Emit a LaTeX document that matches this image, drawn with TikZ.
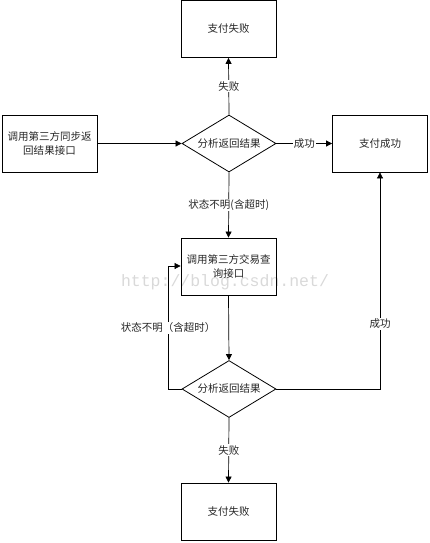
\documentclass[tikz,border=0pt]{standalone}
\usepackage{fontspec}
\setmainfont{Noto Sans CJK SC}
\newfontfamily\wmfont{Liberation Mono}
\usetikzlibrary{arrows.meta,shapes.geometric}
\begin{document}
\begin{tikzpicture}[x=1pt,y=-1pt,
  every node/.style={font=\fontsize{10.5}{14}\selectfont, text=black!85},
  box/.style={draw, line width=0.8pt, minimum width=95pt, minimum height=57pt, inner sep=2pt, align=center},
  dia/.style={draw, line width=0.8pt, diamond, minimum width=94pt, minimum height=57pt, inner sep=0pt, aspect=1.65},
  lbl/.style={fill=white, inner sep=1pt},
  conn/.style={line width=0.7pt, -{Triangle[length=6pt,width=6pt]}}]
\useasboundingbox (0,0) rectangle (430,543);
\node[text=black!15, font=\wmfont\fontsize{16.5}{18}\selectfont] (wm) at (225,282) {http://blog.csdn.net/};
\node[box] (fail1) at (228.5,29) {支付失败};
\node[box] (call) at (49.5,143.5) {调用第三方同步返\\回结果接口};
\node[dia] (d1) at (229,143.5) {};
\node (t1) at (229,143.5) {分析返回结果};
\node[box] (succ) at (380,143.5) {支付成功};
\node[box] (query) at (228.5,266.5) {调用第三方交易查\\询接口};
\node[dia] (d2) at (229,389) {};
\node (t2) at (229,389) {分析返回结果};
\node[box] (fail2) at (228.5,511.5) {支付失败};
\coordinate (lt) at (168,266);
\coordinate (lb) at (168,389);
\coordinate (rb) at (380,389);

\draw[conn] (call.east) -- (d1.west);
\draw[conn] (d1.north) -- node[lbl] {失败} (fail1.south);
\draw[conn] (d1.east) -- node[lbl] {成功} (succ.west);
\draw[conn] (d1.south) -- node[lbl, pos=0.5] {状态不明(含超时)} (query.north);
\draw[conn] (query.south) -- (d2.north);
\draw[conn] (d2.south) -- node[lbl] {失败} (fail2.north);
\draw[conn] (d2.west) -- (lb) -- node[lbl, pos=0.5] {状态不明（含超时）} (lt) -- (lt -| query.west);
\draw[conn] (d2.east) -- (rb) -- node[lbl, pos=0.3] {成功} (succ.south);
\end{tikzpicture}
\end{document}
